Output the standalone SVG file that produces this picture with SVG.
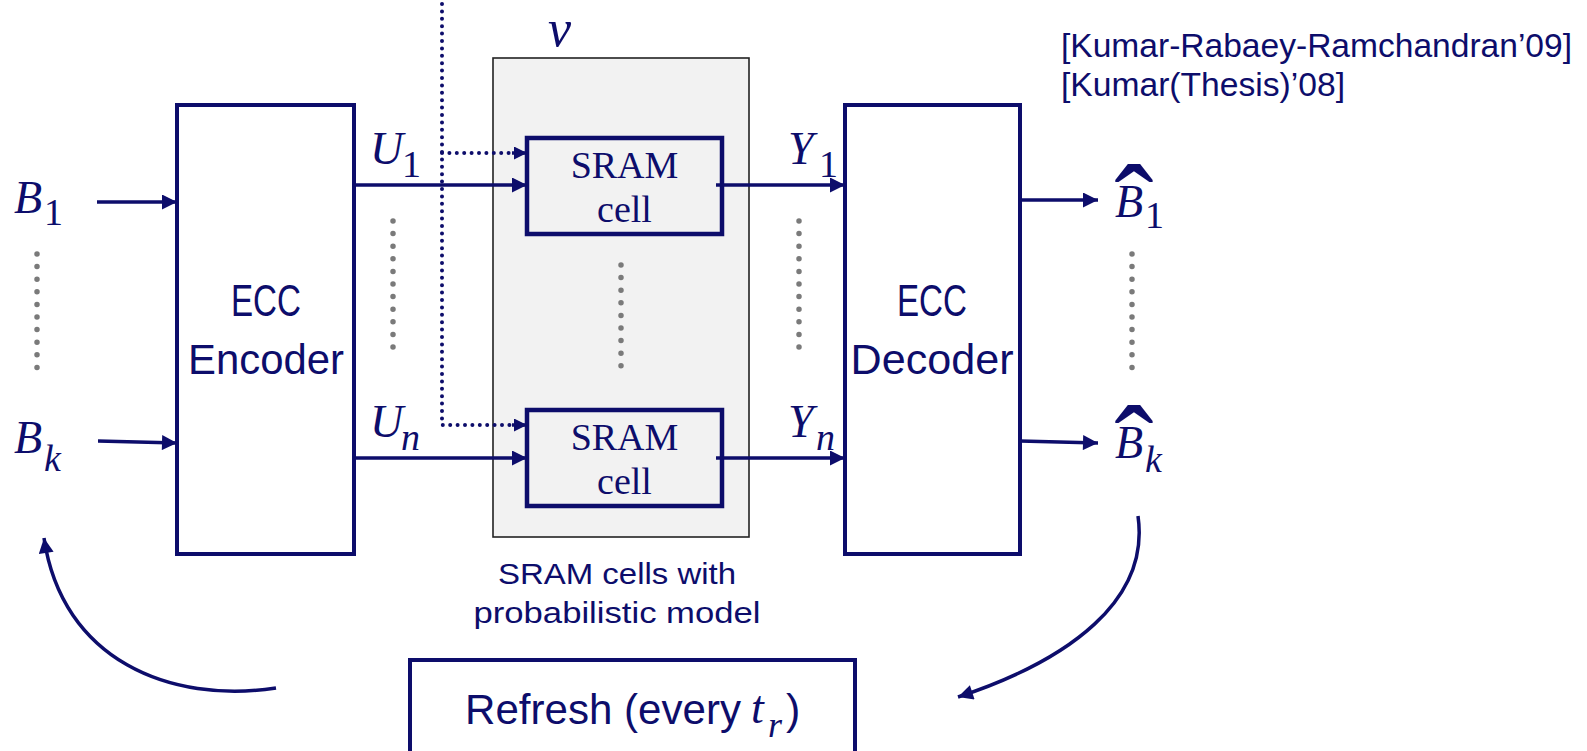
<svg xmlns="http://www.w3.org/2000/svg" width="1587" height="751" viewBox="0 0 1587 751">
<style>
.box{fill:#fff;stroke:#0D0D6B;stroke-width:4}
.cell{fill:#F2F2F2;stroke:#0D0D6B;stroke-width:4.5}
.wire{fill:none;stroke:#0D0D6B;stroke-width:3.5}
.dotted{fill:none;stroke:#0D0D6B;stroke-width:4;stroke-linecap:round;stroke-dasharray:0 7.4}
.gdots{fill:none;stroke:#7A7A7A;stroke-width:5.5;stroke-linecap:round;stroke-dasharray:0 12.6}
.sans{font-family:"Liberation Sans",Arial,sans-serif;fill:#0D0D6B}
.serif{font-family:"Liberation Serif","Times New Roman",serif;fill:#0D0D6B}
.it{font-style:italic}
.up{font-style:normal}
.m{font-size:46px}
.s{font-size:38px}
.hat{font-size:118px;font-style:normal}
</style>
<defs>
<marker id="ah" viewBox="0 0 10 10" refX="10" refY="5" markerWidth="16" markerHeight="15" markerUnits="userSpaceOnUse" orient="auto">
<path d="M0,0 L10,5 L0,10 z" fill="#0D0D6B"/>
</marker>
<marker id="ahs" viewBox="0 0 10 10" refX="10" refY="5" markerWidth="14" markerHeight="13" markerUnits="userSpaceOnUse" orient="auto">
<path d="M0,0 L10,5 L0,10 z" fill="#0D0D6B"/>
</marker>
</defs>

<g id="sram-array">
<rect x="493" y="58" width="256" height="479" fill="#F2F2F2" stroke="#222" stroke-width="1.6"/>
<text class="serif it" x="548" y="46" font-size="52">v</text>
<text class="sans" x="617" y="584" font-size="30" text-anchor="middle" textLength="238" lengthAdjust="spacingAndGlyphs">SRAM cells with</text>
<text class="sans" x="617" y="623" font-size="30" text-anchor="middle" textLength="287" lengthAdjust="spacingAndGlyphs">probabilistic model</text>
</g>

<g id="encoder">
<rect class="box" x="177" y="105" width="177" height="449"/>
<text class="sans" x="266" y="316" font-size="45" text-anchor="middle" textLength="70" lengthAdjust="spacingAndGlyphs">ECC</text>
<text class="sans" x="266" y="374" font-size="43" text-anchor="middle" textLength="156" lengthAdjust="spacingAndGlyphs">Encoder</text>
</g>

<g id="decoder">
<rect class="box" x="845" y="105" width="175" height="449"/>
<text class="sans" x="932" y="316" font-size="45" text-anchor="middle" textLength="70" lengthAdjust="spacingAndGlyphs">ECC</text>
<text class="sans" x="932" y="374" font-size="43" text-anchor="middle" textLength="163" lengthAdjust="spacingAndGlyphs">Decoder</text>
</g>

<g id="cell1">
<rect class="cell" x="527" y="138" width="195" height="96"/>
<text class="serif" x="624.5" y="178" font-size="38" text-anchor="middle">SRAM</text>
<text class="serif" x="624.5" y="222" font-size="38" text-anchor="middle">cell</text>
</g>

<g id="celln">
<rect class="cell" x="527" y="410" width="195" height="96"/>
<text class="serif" x="624.5" y="450" font-size="38" text-anchor="middle">SRAM</text>
<text class="serif" x="624.5" y="494" font-size="38" text-anchor="middle">cell</text>
</g>

<g id="refresh">
<rect class="box" x="410" y="660" width="445" height="110"/>
<text class="sans" x="465" y="724" font-size="43" textLength="276" lengthAdjust="spacingAndGlyphs">Refresh (every</text>
<text class="serif it" x="751" y="723" font-size="46">t</text>
<text class="serif it" x="768" y="737" font-size="36">r</text>
<text class="sans" x="786" y="724" font-size="43">)</text>
</g>

<g id="labels">
<text class="serif it m" x="14" y="213">B</text>
<text class="serif s" x="44" y="225">1</text>
<text class="serif it m" x="14" y="453">B</text>
<text class="serif it s" x="44" y="471">k</text>
<text class="serif it m" x="370" y="164">U</text>
<text class="serif s" x="402" y="177">1</text>
<text class="serif it m" x="370" y="437">U</text>
<text class="serif it s" x="401" y="450">n</text>
<text class="serif it m" x="788" y="164">Y</text>
<text class="serif s" x="819" y="177">1</text>
<text class="serif it m" x="788" y="437">Y</text>
<text class="serif it s" x="816" y="450">n</text>
<text class="serif"><tspan class="it m" x="1115" y="217">B</tspan><tspan class="up s" x="1145" y="228">1</tspan><tspan class="hat" x="1134" y="247" text-anchor="middle">ˆ</tspan></text>
<text class="serif"><tspan class="it m" x="1115" y="458">B</tspan><tspan class="it s" x="1145" y="472">k</tspan><tspan class="hat" x="1134" y="488" text-anchor="middle">ˆ</tspan></text>
<text class="sans" x="1061" y="57" font-size="34" textLength="511" lengthAdjust="spacingAndGlyphs">[Kumar-Rabaey-Ramchandran’09]</text>
<text class="sans" x="1061" y="96" font-size="34" textLength="284" lengthAdjust="spacingAndGlyphs">[Kumar(Thesis)’08]</text>
</g>

<g id="connectors">
<line class="wire" x1="97" y1="202" x2="177" y2="202" marker-end="url(#ah)"/>
<line class="wire" x1="98" y1="441" x2="177" y2="443" marker-end="url(#ah)"/>
<line class="wire" x1="354" y1="185" x2="527" y2="185" marker-end="url(#ah)"/>
<line class="wire" x1="354" y1="458" x2="527" y2="458" marker-end="url(#ah)"/>
<line class="wire" x1="716" y1="185" x2="845" y2="185" marker-end="url(#ah)"/>
<line class="wire" x1="716" y1="458" x2="845" y2="458" marker-end="url(#ah)"/>
<line class="wire" x1="1020" y1="200" x2="1098" y2="200" marker-end="url(#ah)"/>
<line class="wire" x1="1020" y1="441" x2="1098" y2="443" marker-end="url(#ah)"/>
<path class="dotted" d="M442,4 V425 H512"/>
<path class="dotted" d="M442,153 H512"/>
<line class="wire" x1="512" y1="153" x2="527" y2="153" stroke-width="0.1" marker-end="url(#ahs)"/>
<line class="wire" x1="512" y1="425" x2="527" y2="425" stroke-width="0.1" marker-end="url(#ahs)"/>
<path class="wire" d="M276,688 C170,704 62,660 44,538" marker-end="url(#ah)"/>
<path class="wire" d="M1138,516 C1150,600 1070,660 958,697" marker-end="url(#ah)"/>
</g>

<g id="ellipsis">
<line class="gdots" x1="37" y1="254" x2="37" y2="380"/>
<line class="gdots" x1="393" y1="221" x2="393" y2="358"/>
<line class="gdots" x1="621" y1="265" x2="621" y2="378"/>
<line class="gdots" x1="799" y1="221" x2="799" y2="358"/>
<line class="gdots" x1="1132" y1="254" x2="1132" y2="380"/>
</g>
</svg>
